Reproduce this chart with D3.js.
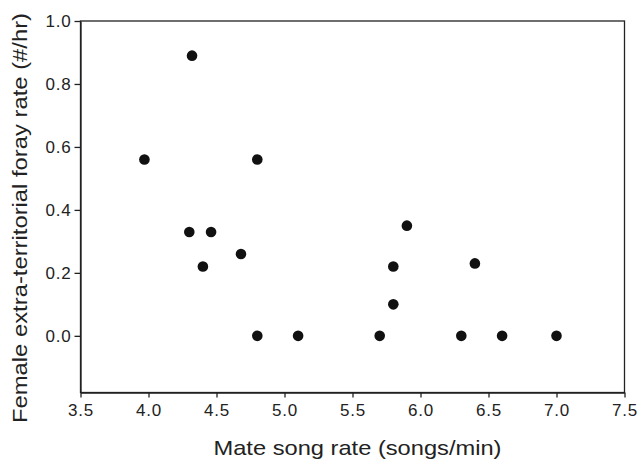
<!DOCTYPE html>
<html><head><meta charset="utf-8">
<script src="https://cdn.jsdelivr.net/npm/d3@7"></script>
<style>body{margin:0;background:#fff}svg{display:block}text{font-family:"Liberation Sans",Arial,sans-serif;fill:#222}</style>
</head><body><svg id="c" width="643" height="460"></svg>
<script>
const songRate = [3.97,4.32,4.80,4.30,4.46,4.40,4.68,4.80,5.10,5.70,5.80,5.80,5.90,6.40,6.30,6.60,7.00];
const forayRate = [0.56,0.89,0.56,0.33,0.33,0.22,0.26,0.00,0.00,0.00,0.22,0.10,0.35,0.23,0.00,0.00,0.00];
const xTicks = [3.5,4.0,4.5,5.0,5.5,6.0,6.5,7.0,7.5];
const yTicks = [0.0,0.2,0.4,0.6,0.8,1.0];
const xTitle = "Mate song rate (songs/min)";
const yTitle = "Female extra-territorial foray rate (#/hr)";

const svg = d3.select("#c");
const L=80.5, R=624.5, T=21, B=392.5;
const x = d3.scaleLinear().domain([3.5,7.5]).range([L,R]);
const y = d3.scaleLinear().domain([-0.18,1.0]).range([B,T]);

// frame
svg.append("rect").attr("x",L).attr("y",T).attr("width",R-L).attr("height",B-T)
  .attr("fill","none").attr("stroke","#222").attr("stroke-width",1.3);

const xa = svg.append("g").attr("transform",`translate(0,${B})`)
  .call(d3.axisBottom(x).tickValues(xTicks).tickFormat(d3.format(".1f")).tickSize(5).tickSizeOuter(0).tickPadding(6));
const ya = svg.append("g").attr("transform",`translate(${L},0)`)
  .call(d3.axisLeft(y).tickValues(yTicks).tickFormat(d3.format(".1f")).tickSize(6).tickSizeOuter(0).tickPadding(3));
[xa,ya].forEach(a=>{
  a.select(".domain").attr("stroke","#222").attr("stroke-width",1.3);
  a.selectAll(".tick line").attr("stroke","#222").attr("stroke-width",1.3);
  a.selectAll(".tick text").attr("font-size","17px").attr("fill","#222")
   .style("font-family","'Liberation Sans',Arial,sans-serif").attr("letter-spacing","0.8px");
});

svg.append("g").selectAll("circle").data(songRate.map((v,i)=>[v,forayRate[i]])).join("circle")
  .attr("cx",d=>x(d[0])).attr("cy",d=>y(d[1])).attr("r",5.3).attr("fill","#111");

svg.append("text").attr("x",357.5).attr("y",455).attr("text-anchor","middle")
  .attr("font-size","21px").attr("textLength",288).attr("lengthAdjust","spacingAndGlyphs").text(xTitle);
svg.append("text").attr("transform","translate(27,218) rotate(-90)").attr("text-anchor","middle")
  .attr("font-size","21px").attr("textLength",410).attr("lengthAdjust","spacingAndGlyphs").text(yTitle);
</script></body></html>
